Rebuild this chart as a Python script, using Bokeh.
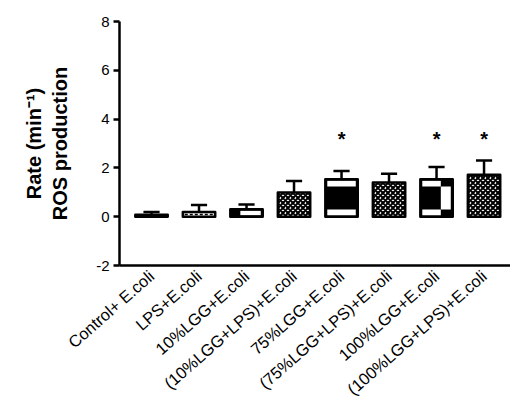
import numpy as np
from bokeh.plotting import figure
from bokeh.models import Range1d, FixedTicker
from bokeh.core.properties import value
from bokeh.embed import file_html
from bokeh.resources import INLINE

# ---- data ----
categories = ["Control+ E.coli", "LPS+E.coli", "10%LGG+E.coli", "(10%LGG+LPS)+E.coli",
              "75%LGG+E.coli", "(75%LGG+LPS)+E.coli", "100%LGG+E.coli", "(100%LGG+LPS)+E.coli"]
means = [0.08, 0.19, 0.30, 0.99, 1.53, 1.40, 1.53, 1.72]
errors = [0.11, 0.29, 0.20, 0.47, 0.34, 0.36, 0.51, 0.58]
significant = [False, False, False, False, True, False, True, True]
y_ticks = [-2, 0, 2, 4, 6, 8]
y_tick_labels = ["-2", "0", "2", "4", "6", "8"]

FONT = "Liberation Sans"

xs = np.arange(1, len(categories) + 1, dtype=float)
m = np.array(means)
e = np.array(errors)
half = 0.34
w_in = 0.30
band = 0.24
inset = 0.05

p = figure(width=510, height=413, output_backend="svg", toolbar_location=None,
           x_range=Range1d(0.326, 8.557), y_range=Range1d(-2, 8),
           min_border_left=119, min_border_right=0, min_border_top=21, min_border_bottom=148)
p.outline_line_color = None
p.xgrid.visible = False
p.ygrid.visible = False
p.background_fill_color = "white"

fills = ["black", "white", "black", "white", "black", "white", "black", "white"]
hatches = [" ", " ", " ", "x", " ", "x", " ", "x"]

# bar fills
p.quad(left=xs - half, right=xs + half, bottom=0, top=m, fill_color=fills,
       hatch_pattern=hatches, hatch_color="black", hatch_scale=5, hatch_weight=2.0,
       line_color=None)

# pattern overlays (white) derived from bar geometry
L, R, B, T = [], [], [], []
def add(l, r, b, t):
    L.append(l); R.append(r); B.append(b); T.append(t)

# 10%LGG: left black, right white
c, h = xs[2], m[2]
add(c - 0.13, c + w_in, 0.06, h - 0.05)
# 75%LGG: white bands top and bottom
c, h = xs[4], m[4]
add(c - w_in, c + w_in, h - inset - band, h - inset)
add(c - w_in, c + w_in, inset, inset + band)
# 100%LGG: split pattern
c, h = xs[6], m[6]
add(c - w_in, c + 0.09, h - inset - band, h - inset)
add(c - w_in, c + 0.09, inset, inset + band)
add(c + 0.09, c + w_in, inset + band, h - inset - band)
p.quad(left=L, right=R, bottom=B, top=T, fill_color="white", line_color=None)

# LPS: dashed line in the middle
p.segment(x0=[xs[1] - w_in], x1=[xs[1] + w_in], y0=[m[1] / 2], y1=[m[1] / 2],
          line_color="black", line_width=1.5, line_dash="3 2")

# bar outlines
p.quad(left=xs - half, right=xs + half, bottom=0, top=m, fill_color=None,
       line_color="black", line_width=2.6, line_join="round")

# error bars (upper only)
p.segment(x0=xs, x1=xs, y0=m, y1=m + e, line_color="black", line_width=2.5)
p.segment(x0=xs - 0.17, x1=xs + 0.17, y0=m + e, y1=m + e, line_color="black", line_width=2.5)

# significance stars
sx = [x for x, s in zip(xs, significant) if s]
p.text(x=sx, y=[3.2] * len(sx), text=["*"] * len(sx), text_font=value(FONT),
       text_font_size="20px", text_font_style="bold", text_align="center",
       text_baseline="middle", text_color="black")

# y axis
ya = p.yaxis[0]
ya.ticker = FixedTicker(ticks=y_ticks)
ya.major_label_overrides = {t: s for t, s in zip(y_ticks, y_tick_labels)}
ya.minor_tick_line_color = None
ya.major_tick_out = 6
ya.major_tick_in = 0
ya.major_tick_line_width = 2.5
ya.axis_line_width = 2.5
ya.axis_line_color = "black"
ya.major_tick_line_color = "black"
ya.major_label_text_font = FONT
ya.major_label_text_font_size = "15px"
ya.major_label_text_color = "black"
ya.major_label_standoff = 4
ya.axis_label = "Rate (min\u207b\u00b9)\nROS production"
ya.axis_label_text_font = FONT
ya.axis_label_text_font_size = "20px"
ya.axis_label_text_font_style = "bold"
ya.axis_label_text_color = "black"
ya.axis_label_standoff = 22

# x axis
xa = p.xaxis[0]
xa.ticker = FixedTicker(ticks=list(xs))
xa.major_label_overrides = {float(x): lab for x, lab in zip(xs, categories)}
xa.minor_tick_line_color = None
xa.major_tick_out = 0
xa.major_tick_in = 0
xa.axis_line_width = 2.5
xa.axis_line_color = "black"
xa.major_label_text_font = FONT
xa.major_label_text_font_size = "16.5px"
xa.major_label_text_color = "black"
xa.major_label_orientation = 0.72
xa.major_label_standoff = 8

open("out.html", "w").write(file_html(p, INLINE))
